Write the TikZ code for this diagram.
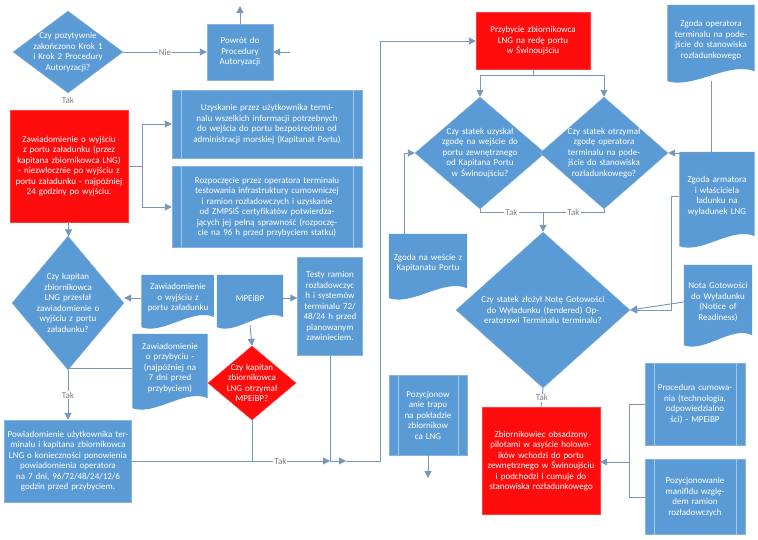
\documentclass[tikz,border=0pt]{standalone}
\usepackage{fontspec}
\setmainfont{Carlito}
\usetikzlibrary{positioning,shapes.geometric,backgrounds,calc,arrows.meta}
\definecolor{flowblue}{RGB}{91,155,213}
\definecolor{flowred}{RGB}{255,12,12}
\definecolor{flowline}{RGB}{120,150,185}
\tikzset{
    flow text/.style={font=\fontsize{9}{10.5}\selectfont, text=white, align=center},
    flow box/.style={
        rectangle,
        flow text,
        fill=flowblue,
        draw=flowblue!75!white,
        inner sep=1pt,
    },
    flow stop/.style={flow box, fill=flowred, draw=flowred!80!white},
    flow doc/.style={rectangle, flow text, inner sep=1pt, draw=none, fill=none},
    flow dec/.style={
        diamond,
        fill=flowblue,
        draw=flowblue!75!white,
        inner sep=0pt,
    },
    dec text/.style={label={[flow text, text width=#1]center:}},
    flow arrow/.style={-{Triangle[length=7pt,width=7pt]}, flowline, line width=0.9pt},
    flow link/.style={flowline, line width=0.9pt},
    flow label/.style={font=\fontsize{9}{10}\selectfont, text=gray, fill=white, inner sep=1pt},
    pp line/.style={draw=flowblue!55!white, line width=0.6pt}
}

\begin{document}
\begin{tikzpicture}[x=1pt,y=-1pt]

\useasboundingbox (0,0) rectangle (758,539);

%Left column
\node[flow dec, minimum width=110, minimum height=82] (dkrok) at (68,52) {};
\node[flow text, text width=74] at (dkrok) {Czy pozytywnie zakończono Krok 1 i Krok 2 Procedury Autoryzacji?};
\node[flow box, minimum width=66, minimum height=56, text width=60] (powrot) at (240,52) {Powrót do Procedury Autoryzacji};
\node[flow stop, minimum width=118, minimum height=112, text width=110] (zawwyj) at (69,166) {Zawiadomienie o wyjściu z portu załadunku (przez kapitana zbiornikowca LNG) - niezwłocznie po wyjściu z portu załadunku - najpóźniej 24 godziny po wyjściu.};
\node[flow box, minimum width=190, minimum height=68, text width=165] (uzysk) at (267,124) {Uzyskanie przez użytkownika terminalu wszelkich informacji potrzebnych do wejścia do portu bezpośrednio od administracji morskiej (Kapitanat Portu)};
\node[flow box, minimum width=190, minimum height=81, text width=168] (rozp) at (267,207) {Rozpoczęcie przez operatora terminalu testowania infrastruktury cumowniczej i ramion rozładowczych i uzyskanie od ZMPSiŚ certyfikatów potwierdzających jej pełną sprawność (rozpoczęcie na 96 h przed przybyciem statku)};

\node[flow dec, minimum width=112, minimum height=134] (dwyj) at (68,303) {};
\node[flow text, text width=70] at (dwyj) {Czy kapitan zbiornikowca LNG przesłał zawiadomienie o wyjściu z portu załadunku?};
\node[flow doc, minimum width=73, minimum height=46, text width=70] (docwyj) at (178,298) {Zawiadomienie o wyjściu z portu załadunku};
\node[flow doc, minimum width=66, minimum height=46, text width=60] (mpe) at (250,298) {MPEiBP};
\node[flow box, minimum width=65, minimum height=98, text width=60] (testy) at (330,306) {Testy ramion rozładowczyc h i systemów terminalu 72/ 48/24 h przed planowanym zawinieciem.};
\node[flow doc, minimum width=75, minimum height=68, text width=72] (docprz) at (170,368) {Zawiadomienie o przybyciu - (najpóźniej na 7 dni przed przybyciem)};
\node[flow dec, fill=flowred, draw=flowred!80!white, minimum width=88, minimum height=74] (dmpe) at (252,383) {};
\node[flow text, text width=58] at (dmpe) {Czy kapitan zbiornikowca LNG otrzymał MPEiBP?};
\node[flow box, minimum width=127, minimum height=82, text width=124] (powiad) at (68,461) {Powiadomienie użytkownika terminalu i kapitana zbiornikowca LNG o konieczności ponowienia powiadomienia operatora na 7 dni, 96/72/48/24/12/6 godzin przed przybyciem.};

%Right column
\node[flow stop, minimum width=114, minimum height=57, text width=106] (przyb) at (533,41) {Przybycie zbiornikowca LNG na redę portu w Świnoujściu};
\node[flow doc, minimum width=87, minimum height=70, text width=84] (zgop) at (711,40) {Zgoda operatora terminalu na podejście do stanowiska rozładunkowego};
\node[flow dec, minimum width=130, minimum height=112] (dkap) at (480,153) {};
\node[flow text, text width=92] at (dkap) {Czy statek uzyskał zgodę na wejście do portu zewnętrznego od Kapitana Portu w Świnoujściu?};
\node[flow dec, minimum width=128, minimum height=112] (dop) at (604,153) {};
\node[flow text, text width=92] at (dop) {Czy statek otrzymał zgodę operatora terminalu na podejście do stanowiska rozładunkowego?};
\node[flow doc, minimum width=78, minimum height=58, text width=74] (zgwej) at (428,263) {Zgoda na weście z Kapitanatu Portu};
\node[flow doc, minimum width=75, minimum height=88, text width=70] (zgarm) at (717,196) {Zgoda armatora i właściciela ładunku na wyładunek LNG};
\node[flow dec, minimum width=174, minimum height=156] (dnota) at (543,310) {};
\node[flow text, text width=124] at (dnota) {Czy statek złożył Notę Gotowości do Wyładunku (tendered) Operatorowi Terminalu terminalu?};
\node[flow doc, minimum width=68, minimum height=74, text width=66] (nota) at (718,302) {Nota Gotowości do Wyładunku (Notice of Readiness)};
\node[flow box, minimum width=78, minimum height=80, text width=58] (trap) at (428,415) {Pozycjonow anie trapu na pokładzie zbiornikow ca LNG};
\node[flow stop, minimum width=118, minimum height=107, text width=112] (zbiorn) at (541,461) {Zbiornikowiec obsadzony pilotami w asyście holowników wchodzi do portu zewnętrznego w Świnoujściu i podchodzi i cumuje do stanowiska rozładunkowego};
\node[flow box, minimum width=100, minimum height=82, text width=76] (proc) at (695,404) {Procedura cumowania (technologia, odpowiedzialno ści) - MPEiBP};
\node[flow box, minimum width=100, minimum height=75, text width=76] (manif) at (695,497) {Pozycjonowanie manifldu względem ramion rozładowczych};

%Document shapes and process bars
\begin{scope}[on background layer]
\fill[white] (0,0) rectangle (758,539);
\foreach \d in {docwyj,mpe,docprz,zgop,zgwej,zgarm,nota}
    \fill[flowblue] (\d.south west) -- (\d.north west) -- (\d.north east) -- ($(\d.south east)+(0,-4)$)
        .. controls ($(\d.south west)!0.7!(\d.south east)+(0,-14)$) and ($(\d.south west)!0.3!(\d.south east)+(0,14)$) .. ($(\d.south west)+(0,6)$) -- cycle;
\end{scope}
\draw[white, line width=0.8pt] (docwyj.north east) -- (docwyj.south east);
\foreach \p in {uzysk,rozp,trap,proc,manif}{
    \draw[pp line] ($(\p.north west)+(9,0)$) -- ($(\p.south west)+(9,0)$);
    \draw[pp line] ($(\p.north east)+(-9,0)$) -- ($(\p.south east)+(-9,0)$);
}

%Free ends
\coordinate (powup) at (240,6);
\coordinate (powin) at (290,52);
\coordinate (jtest) at (330,461);
\coordinate (jnext) at (346,461);
\coordinate (jtak) at (543,212);
\coordinate (jproc) at (630,462);
\coordinate (trapend) at (428,478);

%Connectors
\draw[flow arrow] (dkrok) -- node[flow label]{Nie} (powrot);
\node[flow label] (takkrok) at (68,100) {Tak};
\draw[flow arrow] (powrot) -- (powup);
\draw[flow arrow] (powin) -- (powrot);
\draw[flow arrow] (zawwyj.east) -- ++(14,0) |- (uzysk.west);
\draw[flow arrow] (zawwyj.east) -- ++(14,0) |- (rozp.west);
\draw[flow arrow] (zawwyj) -- (dwyj);
\draw[flow arrow] (docwyj.west) -- (dwyj.east |- docwyj.west);
\draw[flow arrow] (mpe.east) -- (testy.west |- mpe.east);
\draw[flow arrow] (mpe.south) ++(0,4) -- (dmpe.north);
\draw[flow link] (dwyj.south |- docprz.west) -- (docprz.west);
\draw[flow arrow] (dwyj.south) -- node[flow label]{Tak} (powiad.north);
\draw[flow arrow] (powiad.east) -- node[flow label, pos=0.75]{Tak} (jtest);
\draw[flow link] (dmpe.south) -- (dmpe.south |- jtest);
\draw[flow link] (testy.south) -- (jtest);
\draw[flow arrow] (jtest) -- (jnext);
\draw[flow arrow] (jnext) -- ++(34,0) |- (przyb.west);

\draw[flow arrow] (przyb.south) -- ++(0,6) -| (dkap.north);
\draw[flow arrow] (przyb.south) -- ++(0,6) -| (dop.north);
\draw[flow arrow] ($(zgop.south)+(0,6)$) |- (dop.east);
\draw[flow link] (dkap.south) |- node[flow label, pos=0.75]{Tak} (jtak);
\draw[flow link] (dop.south) |- node[flow label, pos=0.75]{Tak} (jtak);
\draw[flow arrow] (jtak) -- (dnota.north);
\draw[flow arrow] ($(zgwej.north west)+(16,0)$) |- (dkap.west);
\draw[flow arrow] (zgarm.west) -- ++(-8,0) |- (dnota.east);
\draw[flow arrow] (nota.west) -- (dnota.east);
\draw[flow link] (dnota.south) -- node[flow label]{Tak} (zbiorn.north);
\draw[flow arrow] (trap.south) -- (trapend);
\draw[flow link] (proc.west) -- ++(-15,0) |- (manif.west);
\draw[flow arrow] (jproc) -- (zbiorn.east |- jproc);

\end{tikzpicture}
\end{document}
